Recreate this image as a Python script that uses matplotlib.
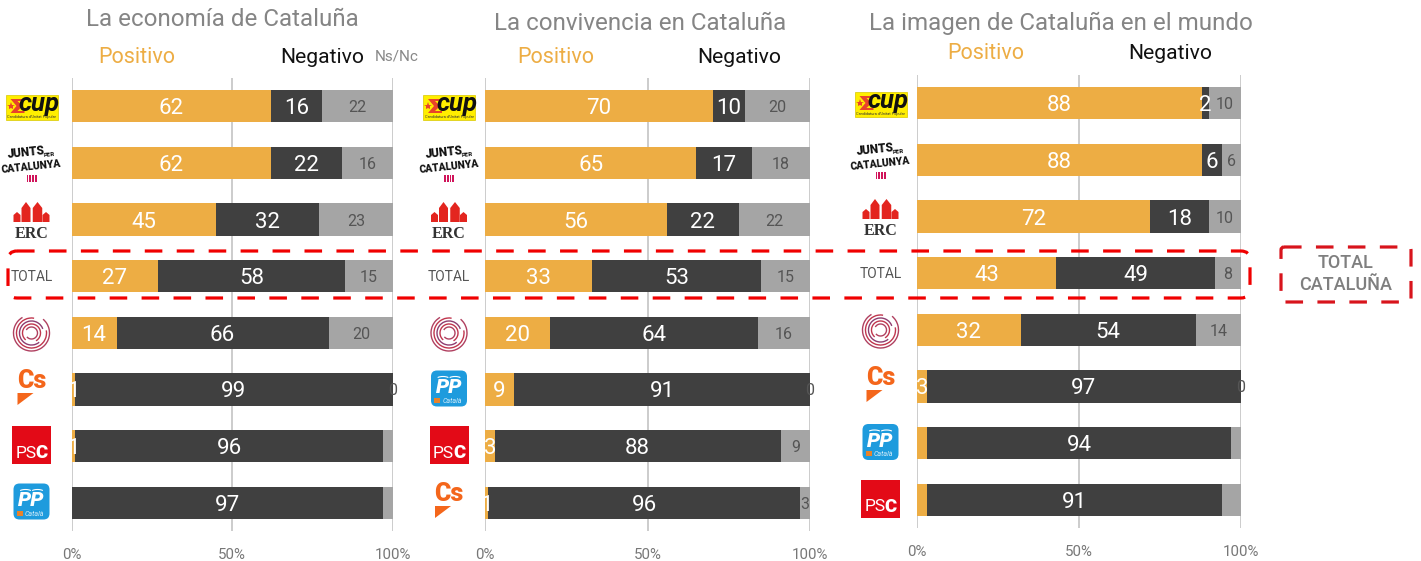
import matplotlib
matplotlib.use("Agg")
import matplotlib.pyplot as plt
from matplotlib.patches import Rectangle, FancyBboxPatch, Polygon, Arc

plt.rcParams['font.family'] = ['Roboto', 'DejaVu Sans']

W, H = 1421, 561
ORANGE, DARK, GREY = '#EDAD44', '#404040', '#A5A5A5'

titles = ["La economía de Cataluña", "La convivencia en Cataluña", "La imagen de Cataluña en el mundo"]

parties_1 = ["CUP", "JUNTS", "ERC", "TOTAL", "COMUNS", "CS", "PSC", "PP"]
positive_1 = [62, 62, 45, 27, 14, 1, 1, 0]
negative_1 = [16, 22, 32, 58, 66, 99, 96, 97]
nsnc_1 = [22, 16, 23, 15, 20, 0, 3, 3]
poslabels_1 = ["62", "62", "45", "27", "14", "1", "1", ""]
neglabels_1 = ["16", "22", "32", "58", "66", "99", "96", "97"]
nsnclabels_1 = ["22", "16", "23", "15", "20", "0", "", ""]

parties_2 = ["CUP", "JUNTS", "ERC", "TOTAL", "COMUNS", "PP", "PSC", "CS"]
positive_2 = [70, 65, 56, 33, 20, 9, 3, 1]
negative_2 = [10, 17, 22, 52, 64, 91, 88, 96]
nsnc_2 = [20, 18, 22, 15, 16, 0, 9, 3]
poslabels_2 = ["70", "65", "56", "33", "20", "9", "3", "1"]
neglabels_2 = ["10", "17", "22", "53", "64", "91", "88", "96"]
nsnclabels_2 = ["20", "18", "22", "15", "16", "0", "9", "3"]

parties_3 = ["CUP", "JUNTS", "ERC", "TOTAL", "COMUNS", "CS", "PP", "PSC"]
positive_3 = [88, 88, 72, 43, 32, 3, 3, 3]
negative_3 = [2, 6, 18, 49, 54, 97, 94, 91]
nsnc_3 = [10, 6, 10, 8, 14, 0, 3, 6]
poslabels_3 = ["88", "88", "72", "43", "32", "3", "", ""]
neglabels_3 = ["2", "6", "18", "49", "54", "97", "94", "91"]
nsnclabels_3 = ["10", "6", "10", "8", "14", "0", "", ""]

fig = plt.figure(figsize=(W / 100, H / 100), dpi=100, facecolor='white')


def panel(x0, x1, top, bottom, pos, neg, nsn, plab, mlab, nlab):
    ax = fig.add_axes([x0 / W, 1 - bottom / H, (x1 - x0) / W, (bottom - top) / H])
    ys = range(len(pos))
    lefts_n = pos
    lefts_g = [a + b for a, b in zip(pos, neg)]
    ax.barh(ys, pos, height=0.57, color=ORANGE, zorder=3)
    ax.barh(ys, neg, left=lefts_n, height=0.57, color=DARK, zorder=3)
    ax.barh(ys, nsn, left=lefts_g, height=0.57, color=GREY, zorder=3)
    for i in ys:
        if plab[i]:
            ax.text(pos[i] / 2, i, plab[i], color='white', fontsize=16, ha='center', va='center_baseline', zorder=4)
        ax.text(pos[i] + neg[i] / 2, i, mlab[i], color='white', fontsize=16, ha='center', va='center_baseline', zorder=4)
        if nlab[i]:
            ax.text(lefts_g[i] + nsn[i] / 2, i, nlab[i], color='#555555', fontsize=11.5, ha='center', va='center_baseline', zorder=4, clip_on=False)
    ax.set_xlim(0, 100)
    ax.set_ylim(len(pos) - 0.5, -0.5)
    ax.set_xticks([0, 50, 100], ['0%', '50%', '100%'])
    ax.set_yticks([])
    ax.tick_params(axis='x', length=0, pad=12, labelsize=10.8, labelcolor='#777777')
    ax.grid(axis='x', color='#C8C8C8', lw=1.3, zorder=0)
    ax.set_axisbelow(True)
    for s in ax.spines.values():
        s.set_visible(False)
    ax.patch.set_alpha(0)
    return ax


panel(71.5, 393, 78, 531, positive_1, negative_1, nsnc_1, poslabels_1, neglabels_1, nsnclabels_1)
panel(485, 810, 78, 531, positive_2, negative_2, nsnc_2, poslabels_2, neglabels_2, nsnclabels_2)
panel(917, 1241, 75, 528, positive_3, negative_3, nsnc_3, poslabels_3, neglabels_3, nsnclabels_3)

# overlay in pixel coordinates for headings, logos and highlight boxes
ov = fig.add_axes([0, 0, 1, 1], zorder=10)
ov.set_xlim(0, W)
ov.set_ylim(H, 0)
ov.axis('off')
ov.patch.set_alpha(0)

for cx, cy, t in [(222.5, 19.5, titles[0]), (640, 23.5, titles[1]), (1061, 23.5, titles[2])]:
    ov.text(cx, cy, t, fontsize=17.4, color='#858585', ha='center', va='center')
for cx, cy in [(137, 57), (556, 57), (986, 53)]:
    ov.text(cx, cy, "Positivo", fontsize=15.5, color=ORANGE, ha='center', va='center')
for cx, cy in [(322, 57), (739, 57), (1170, 53)]:
    ov.text(cx, cy, "Negativo", fontsize=15.2, color='#111111', ha='center', va='center')
ov.text(397, 56, "Ns/Nc", fontsize=11, color='#888888', ha='center', va='center')


def logo_cup(cx, cy):
    ov.add_patch(Rectangle((cx - 26, cy - 12.5), 52, 25, fc='#FFEE00', ec='#D8C800', lw=0.5))
    ov.add_patch(Polygon([(cx - 21, cy - 8), (cx - 7, cy - 8), (cx - 7, cy - 6), (cx - 14, cy - 6), (cx - 9, cy - 1),
                          (cx - 14, cy + 4), (cx - 7, cy + 4), (cx - 7, cy + 6), (cx - 21, cy + 6), (cx - 15, cy - 1)], fc='#E8432B'))
    ov.plot([cx - 21], [cy - 1], marker='*', ms=6, color='#E8432B', mew=0)
    ov.text(cx + 8, cy - 3, "cup", fontsize=18.5, fontweight='bold', style='italic', color='#111111', ha='center', va='center')
    ov.text(cx, cy + 10, "Candidatura d'Unitat Popular", fontsize=2.8, color='#333333', ha='center', va='center')


def logo_junts(cx, cy):
    ov.text(cx - 5, cy - 11, "JUNTS", fontsize=8.5, fontweight='black', color='#111111', ha='center', va='center', rotation=6)
    ov.text(cx + 18, cy - 9, "PER", fontsize=4.5, fontweight='bold', color='#111111', ha='center', va='center', rotation=6)
    ov.text(cx, cy + 3, "CATALUNYA", fontsize=7.4, fontweight='black', color='#111111', ha='center', va='center', rotation=6)
    for k in range(4):
        ov.add_patch(Rectangle((cx - 5 + k * 2.8, cy + 11), 1.7, 7, fc='#D0145A'))


def logo_erc(cx, cy):
    for dx, w, h in [(-14.5, 7, 10), (-5.5, 9, 20), (6, 9.5, 20), (14.5, 7, 10)]:
        y0 = cy + 2
        x = cx + dx
        ov.add_patch(Polygon([(x - w / 2, y0), (x + w / 2, y0), (x + w / 2, y0 - h * 0.7), (x, y0 - h), (x - w / 2, y0 - h * 0.7)], fc='#E3251F'))
    ov.text(cx, cy + 14, "ERC", fontsize=11.5, fontweight='bold', family='Liberation Serif', color='#333333', ha='center', va='center')


def logo_comuns(cx, cy):
    for r, a, c in [(36, 0, '#B04060'), (30, 40, '#C0364E'), (24, 100, '#8E3D70'), (18, 180, '#C0364E'), (12, 260, '#B04060')]:
        ov.add_patch(Arc((cx, cy), r, r, theta1=a - 50, theta2=a + 240, ec=c, lw=1.0))


def logo_cs(cx, cy):
    ov.text(cx, cy - 9, "Cs", fontsize=18, fontweight='black', color='#F4661B', ha='center', va='center')
    ov.add_patch(Polygon([(cx - 14, cy + 3.5), (cx + 2, cy + 3.5), (cx - 14, cy + 15.5)], fc='#F4661B'))


def logo_psc(cx, cy):
    ov.add_patch(Rectangle((cx - 19.5, cy - 19), 39, 38, fc='#E30A17'))
    ov.text(cx + 5, cy + 8, "PS", fontsize=12.5, color='white', ha='right', va='center')
    ov.text(cx + 4, cy + 8, "C", fontsize=13.5, fontweight='black', color='white', ha='left', va='center')


def logo_pp(cx, cy):
    ov.add_patch(FancyBboxPatch((cx - 14, cy - 14), 28, 28, boxstyle='round,pad=4,rounding_size=6', fc='#1E9BDD', ec='none'))
    ov.text(cx, cy - 1, "PP", fontsize=15, fontweight='black', style='italic', color='white', ha='center', va='center')
    ov.add_patch(Arc((cx - 6, cy - 9), 14, 6, theta1=200, theta2=340, ec='white', lw=0.8))
    ov.add_patch(Arc((cx + 6, cy - 9), 14, 6, theta1=200, theta2=340, ec='white', lw=0.8))
    ov.add_patch(Rectangle((cx - 15, cy + 9), 6, 5, fc='#E8832B'))
    ov.text(cx + 3, cy + 12, "Català", fontsize=5, style='italic', color='#D8EEFA', ha='center', va='center')


def logo_total(cx, cy):
    ov.text(cx, cy, "TOTAL", fontsize=10, color='#555555', ha='center', va='center')


logos = {"CUP": logo_cup, "JUNTS": logo_junts, "ERC": logo_erc, "TOTAL": logo_total,
         "COMUNS": logo_comuns, "CS": logo_cs, "PSC": logo_psc, "PP": logo_pp}

step = 56.5
for cx, y0, names in [(31.5, 107, parties_1), (449, 107, parties_2), (880.5, 104, parties_3)]:
    for i, name in enumerate(names):
        logos[name](cx, y0 + i * step + (-1 if name in ("PSC", "PP") else 0))

ov.add_patch(FancyBboxPatch((8, 251), 1242, 47, boxstyle='round,pad=0,rounding_size=9', fc='none', ec='#F00000', lw=2.3, ls=(0, (5.5, 4.5))))
ov.add_patch(FancyBboxPatch((1281, 247), 130, 55, boxstyle='round,pad=0,rounding_size=3', fc='none', ec='#D8141C', lw=2.3, ls=(0, (5.5, 4.5))))
ov.text(1346, 263, "TOTAL", fontsize=13, fontweight='medium', color='#7F7F7F', ha='center', va='center')
ov.text(1346, 285, "CATALUÑA", fontsize=13, fontweight='medium', color='#7F7F7F', ha='center', va='center')

fig.savefig('out.png', dpi=100)
